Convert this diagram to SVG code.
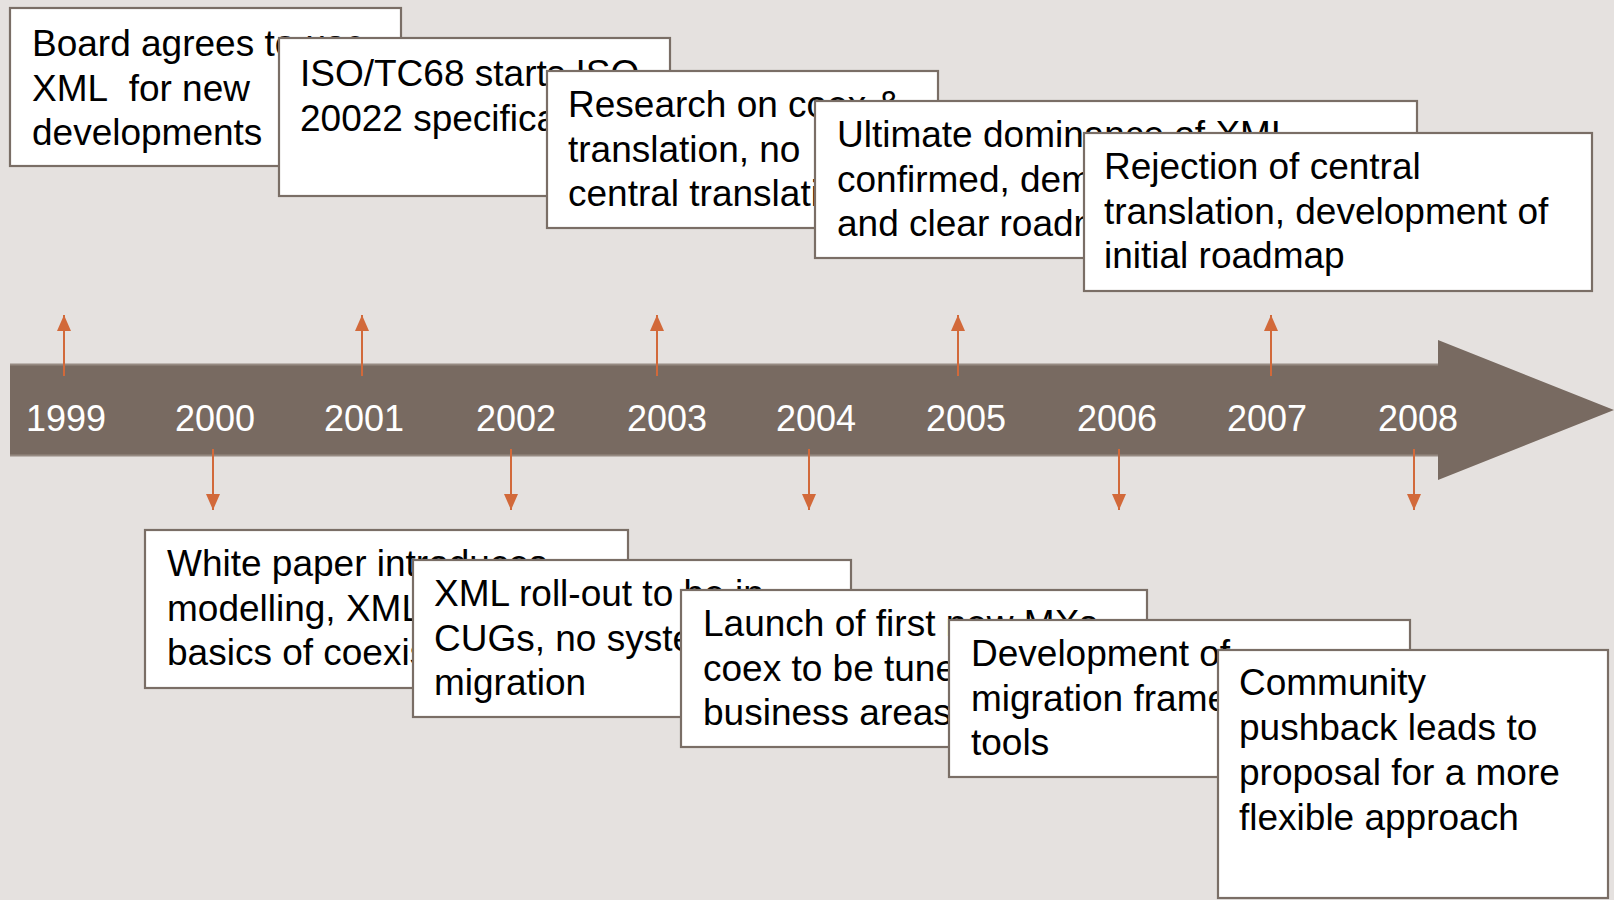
<svg xmlns="http://www.w3.org/2000/svg" width="1614" height="900" viewBox="0 0 1614 900">
<defs>
<style>
.box{fill:#ffffff;stroke:#7a6e66;stroke-width:2.2}
.t{font-family:"Liberation Sans",Arial,sans-serif;font-size:37px;fill:#000000}
.yr{font-family:"Liberation Sans",Arial,sans-serif;font-size:36px;fill:#ffffff;text-anchor:middle}
.con{stroke:#d2693a;stroke-width:2;fill:none;marker-end:url(#ah)}
</style>
<marker id="ah" markerUnits="userSpaceOnUse" markerWidth="16" markerHeight="16" viewBox="0 0 16 14" refX="16" refY="7" orient="auto">
<path d="M0,0 L16,7 L0,14 Z" fill="#d2693a"/>
</marker>
</defs>
<rect width="1614" height="900" fill="#e5e1df"/>
<g id="timeline">
<path d="M10,364 H1438 V340 L1614,410 L1438,480 V456 H10 Z" fill="#786a61"/>
<line x1="10" y1="364.5" x2="1438" y2="364.5" stroke="#968a82" stroke-width="2"/>
<line x1="10" y1="455.5" x2="1438" y2="455.5" stroke="#968a82" stroke-width="2"/>
<text class="yr" x="66" y="431">1999</text>
<text class="yr" x="215" y="431">2000</text>
<text class="yr" x="364" y="431">2001</text>
<text class="yr" x="516" y="431">2002</text>
<text class="yr" x="667" y="431">2003</text>
<text class="yr" x="816" y="431">2004</text>
<text class="yr" x="966" y="431">2005</text>
<text class="yr" x="1117" y="431">2006</text>
<text class="yr" x="1267" y="431">2007</text>
<text class="yr" x="1418" y="431">2008</text>
</g>
<g id="connectors">
<line class="con" x1="64" y1="376" x2="64" y2="315"/>
<line class="con" x1="362" y1="376" x2="362" y2="315"/>
<line class="con" x1="657" y1="376" x2="657" y2="315"/>
<line class="con" x1="958" y1="376" x2="958" y2="315"/>
<line class="con" x1="1271" y1="376" x2="1271" y2="315"/>
<line class="con" x1="213" y1="449" x2="213" y2="510"/>
<line class="con" x1="511" y1="449" x2="511" y2="510"/>
<line class="con" x1="809" y1="449" x2="809" y2="510"/>
<line class="con" x1="1119" y1="449" x2="1119" y2="510"/>
<line class="con" x1="1414" y1="449" x2="1414" y2="510"/>
</g>
<g id="n1999">
<rect class="box" x="10" y="8" width="391" height="158"/>
<text class="t" x="32" y="56">Board agrees to use</text>
<text class="t" x="32" y="100.5">XML&#160; for new</text>
<text class="t" x="32" y="145">developments</text>
</g>
<g id="n2001">
<rect class="box" x="279" y="38" width="391" height="158"/>
<text class="t" x="300" y="86">ISO/TC68 starts ISO</text>
<text class="t" x="300" y="130.5">20022 specification</text>
</g>
<g id="n2003">
<rect class="box" x="547" y="71" width="391" height="157"/>
<text class="t" x="568" y="117">Research on coex &amp;</text>
<text class="t" x="568" y="161.5">translation, no</text>
<text class="t" x="568" y="206">central translation</text>
</g>
<g id="n2005">
<rect class="box" x="815" y="101" width="602" height="157"/>
<text class="t" x="837" y="147">Ultimate dominance of XML</text>
<text class="t" x="837" y="191.5">confirmed, demand for</text>
<text class="t" x="837" y="236">and clear roadmap</text>
</g>
<g id="n2007">
<rect class="box" x="1084" y="133" width="508" height="158"/>
<text class="t" x="1104" y="179">Rejection of central</text>
<text class="t" x="1104" y="223.5">translation, development of</text>
<text class="t" x="1104" y="268">initial roadmap</text>
</g>
<g id="n2000">
<rect class="box" x="145" y="530" width="483" height="158"/>
<text class="t" x="167" y="576">White paper introduces</text>
<text class="t" x="167" y="620.5">modelling, XML and</text>
<text class="t" x="167" y="665">basics of coexistence</text>
</g>
<g id="n2002">
<rect class="box" x="413" y="560" width="438" height="157"/>
<text class="t" x="434" y="606">XML roll-out to be in</text>
<text class="t" x="434" y="650.5">CUGs, no systematic</text>
<text class="t" x="434" y="695">migration</text>
</g>
<g id="n2004">
<rect class="box" x="681" y="590" width="466" height="157"/>
<text class="t" x="703" y="636">Launch of first new MXs,</text>
<text class="t" x="703" y="680.5">coex to be tuned by</text>
<text class="t" x="703" y="725">business areas</text>
</g>
<g id="n2006">
<rect class="box" x="949" y="620" width="461" height="157"/>
<text class="t" x="971" y="666">Development of</text>
<text class="t" x="971" y="710.5">migration framework and</text>
<text class="t" x="971" y="755">tools</text>
</g>
<g id="n2008">
<rect class="box" x="1218" y="650" width="390" height="248"/>
<text class="t" x="1239" y="695">Community</text>
<text class="t" x="1239" y="740">pushback leads to</text>
<text class="t" x="1239" y="785">proposal for a more</text>
<text class="t" x="1239" y="830">flexible approach</text>
</g>
</svg>
